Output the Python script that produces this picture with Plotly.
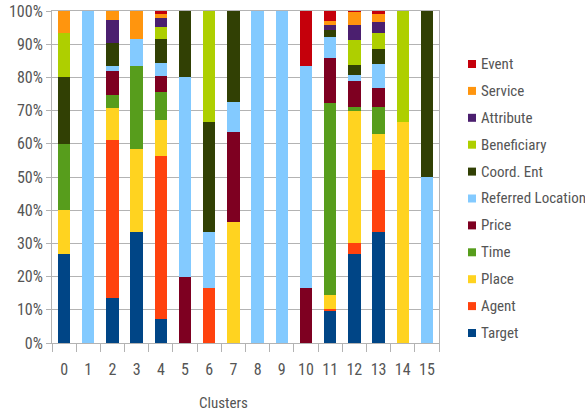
import plotly.graph_objects as go

clusters = [str(i) for i in range(16)]

target   = [26.7, 0, 13.7, 33.3, 7.3, 0, 0, 0, 0, 0, 0, 9.7, 26.9, 33.5, 0, 0]
agent    = [0, 0, 47.5, 0, 49.0, 0, 16.7, 0, 0, 0, 0, 0.6, 3.1, 18.5, 0, 0]
place    = [13.3, 0, 9.7, 25.0, 10.9, 0, 0, 36.4, 0, 0, 0, 4.2, 40.0, 11.1, 66.7, 0]
time_    = [20.0, 0, 3.8, 25.0, 8.3, 0, 0, 0, 0, 0, 0, 57.7, 1.0, 8.0, 0, 0]
price    = [0, 0, 7.3, 0, 4.9, 20.0, 0, 27.3, 0, 0, 16.7, 13.5, 7.9, 5.8, 0, 0]
ref_loc  = [0, 100, 1.5, 8.3, 3.9, 60.0, 16.7, 9.1, 100, 100, 66.7, 6.4, 1.7, 7.1, 0, 50]
coord    = [20.0, 0, 6.8, 0, 7.2, 20.0, 33.3, 27.3, 0, 0, 0, 2.3, 3.1, 4.6, 0, 50]
benef    = [13.3, 0, 0, 0, 3.6, 0, 33.3, 0, 0, 0, 0, 0, 7.7, 4.7, 33.3, 0]
attr     = [0, 0, 6.9, 0, 2.7, 0, 0, 0, 0, 0, 0, 1.4, 4.4, 3.3, 0, 0]
service  = [6.7, 0, 2.8, 8.3, 1.4, 0, 0, 0, 0, 0, 0, 1.1, 3.9, 2.6, 0, 0]
event    = [0, 0, 0, 0, 0.8, 0, 0, 0, 0, 0, 16.7, 3.1, 0.3, 0.8, 0, 0]

series_names = ["Target", "Agent", "Place", "Time", "Price", "Referred Location",
                "Coord. Ent", "Beneficiary", "Attribute", "Service", "Event"]
series_values = [target, agent, place, time_, price, ref_loc, coord, benef, attr, service, event]
colors = ["#004586", "#ff420e", "#ffd320", "#579d1c", "#7e0021", "#83caff",
          "#314004", "#aecf00", "#4b1f6f", "#ff950e", "#c5000b"]

FONT = "Roboto Condensed, Liberation Sans, Arial, sans-serif"
FS = 16
LFS = 15
TXT = "#555555"
GRID = "#b3b3b3"

W, H = 585, 416
L, R, T, B = 52, 146, 11, 73
pw, ph = W - L - R, H - T - B

fig = go.Figure()
for name, vals, c in zip(series_names, series_values, colors):
    fig.add_trace(go.Bar(name=name, x=clusters, y=vals, marker=dict(color=c, line=dict(width=0)),
                         showlegend=False))

# manual legend (top item = Event)
for i, (name, c) in enumerate(zip(reversed(series_names), reversed(colors))):
    cy = 64 + 26.9 * i
    y0 = (H - B - (cy + 4)) / ph
    y1 = (H - B - (cy - 4)) / ph
    x0 = (468 - L) / pw
    x1 = (476 - L) / pw
    fig.add_shape(type="rect", xref="paper", yref="paper", x0=x0, x1=x1, y0=y0, y1=y1,
                  fillcolor=c, line=dict(width=0))
    fig.add_annotation(xref="paper", yref="paper", x=(479 - L) / pw, y=(H - B - cy) / ph,
                       text=name, showarrow=False, xanchor="left", yanchor="middle",
                       font=dict(family=FONT, size=LFS, color=TXT))

fig.add_annotation(xref="paper", yref="paper", x=(223 - L) / pw, y=(H - B - 403) / ph,
                   text="Clusters", showarrow=False, xanchor="center", yanchor="middle",
                   font=dict(family=FONT, size=LFS, color=TXT))

fig.update_layout(
    width=W, height=H,
    margin=dict(l=L, r=R, t=T, b=B, autoexpand=False),
    barmode="stack", barnorm="percent", bargap=0.49,
    plot_bgcolor="white", paper_bgcolor="white",
    font=dict(family=FONT, size=FS, color=TXT),
    showlegend=False,
)
fig.update_xaxes(type="category", tickson="boundaries", ticks="outside", ticklen=8,
                 tickcolor=GRID, showgrid=False, showline=True, linecolor=GRID, mirror=True,
                 tickangle=0, tickfont=dict(family=FONT, size=FS, color=TXT), ticklabelstandoff=12)
fig.update_yaxes(range=[0, 100], dtick=10, ticksuffix="%", ticks="outside", ticklen=5,
                 tickcolor=GRID, showgrid=True, gridcolor=GRID, showline=True, linecolor=GRID,
                 mirror=True, zeroline=False, tickfont=dict(family=FONT, size=FS, color=TXT))

fig.write_html("out.html", config={"displayModeBar": False},
               post_script="document.body.style.margin='0';document.body.style.overflow='hidden';")
